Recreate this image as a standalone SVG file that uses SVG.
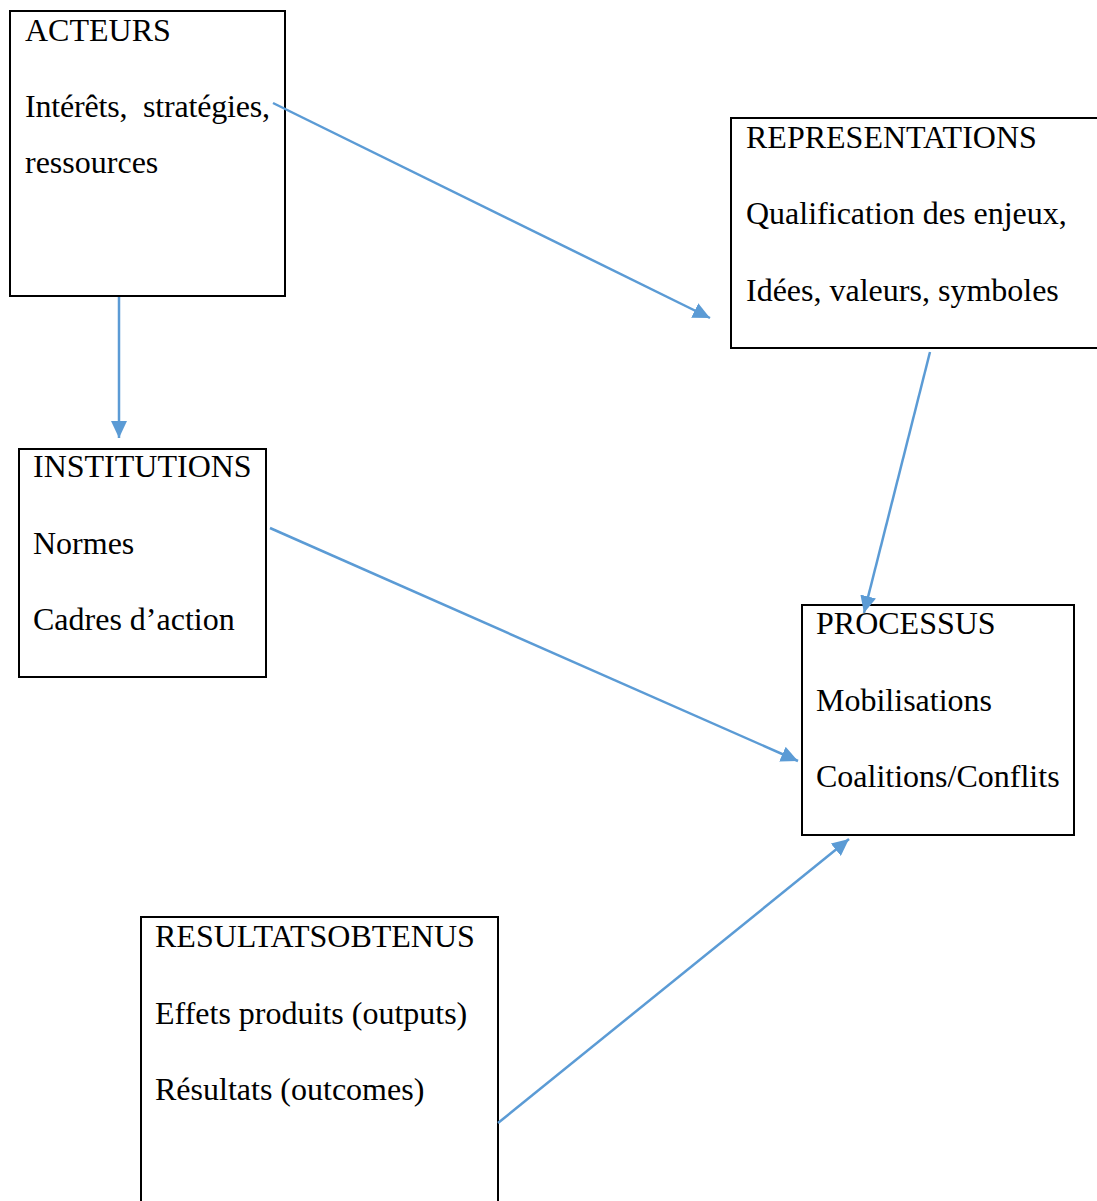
<svg xmlns="http://www.w3.org/2000/svg" width="1097" height="1201" viewBox="0 0 1097 1201">
<style>
.box{fill:#fff;stroke:#000;stroke-width:2}
.t{font-family:"Liberation Serif","Times New Roman",serif;font-size:32px;fill:#000}
.c{stroke:#5B9BD5;stroke-width:2.5;fill:none;marker-end:url(#ah)}
</style>
<defs>
<marker id="ah" markerUnits="userSpaceOnUse" markerWidth="18" markerHeight="16" refX="17" refY="8" orient="auto">
<path d="M0,0 L17,8 L0,16 Z" fill="#5B9BD5"/>
</marker>
</defs>
<rect width="1097" height="1201" fill="#fff"/>
<g id="acteurs">
<rect class="box" x="10" y="11" width="275" height="285"/>
<text class="t" x="25" y="41">ACTEURS</text>
<text class="t" x="25" y="117" xml:space="preserve" textLength="245" lengthAdjust="spacing">Intérêts,  stratégies,</text>
<text class="t" x="25" y="173">ressources</text>
</g>
<g id="representations">
<rect class="box" x="731" y="118" width="380" height="230"/>
<text class="t" x="746" y="148">REPRESENTATIONS</text>
<text class="t" x="746" y="224">Qualification des enjeux,</text>
<text class="t" x="746" y="301">Idées, valeurs, symboles</text>
</g>
<g id="institutions">
<rect class="box" x="19" y="449" width="247" height="228"/>
<text class="t" x="33" y="477">INSTITUTIONS</text>
<text class="t" x="33" y="554">Normes</text>
<text class="t" x="33" y="630">Cadres d’action</text>
</g>
<g id="processus">
<rect class="box" x="802" y="605" width="272" height="230"/>
<text class="t" x="816" y="634">PROCESSUS</text>
<text class="t" x="816" y="711">Mobilisations</text>
<text class="t" x="816" y="787">Coalitions/Conflits</text>
</g>
<g id="resultats">
<rect class="box" x="141" y="917" width="357" height="320"/>
<text class="t" x="155" y="947">RESULTATSOBTENUS</text>
<text class="t" x="155" y="1024">Effets produits (outputs)</text>
<text class="t" x="155" y="1100">Résultats (outcomes)</text>
</g>
<g id="connectors">
<line class="c" x1="273" y1="103" x2="710" y2="318"/>
<line class="c" x1="119" y1="297" x2="119" y2="438"/>
<line class="c" x1="930" y1="352" x2="864" y2="613"/>
<line class="c" x1="270" y1="528" x2="798" y2="761"/>
<line class="c" x1="498" y1="1123" x2="849" y2="839"/>
</g>
</svg>
